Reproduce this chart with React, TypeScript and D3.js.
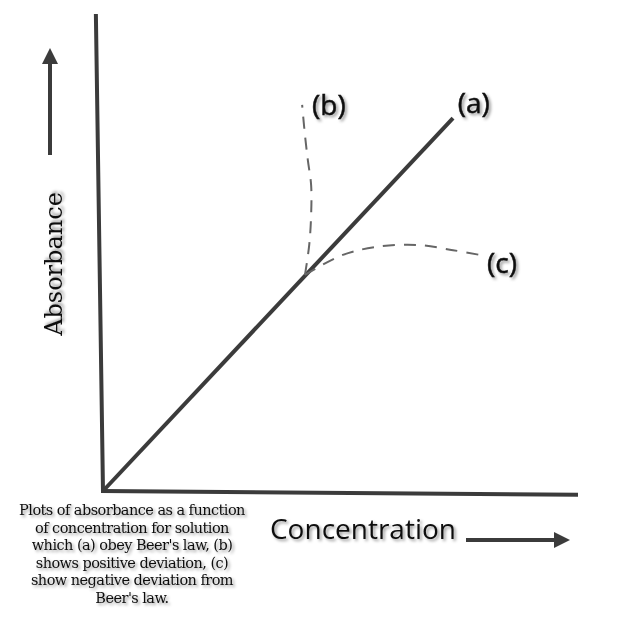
import React from 'react'
import * as d3 from 'd3'

// concentration / absorbance in arbitrary units
const axisX = [
  { c: 0, a: 0 },
  { c: 10, a: -0.08 },
]
const axisY = [
  { c: -0.15, a: 10 },
  { c: 0, a: 0 },
]
const lineA = [
  { c: 0, a: 0 },
  { c: 7.4, a: 7.85 },
]
const lineB = [
  { c: 4.27, a: 4.55 },
  { c: 4.36, a: 5.18 },
  { c: 4.4, a: 5.81 },
  { c: 4.4, a: 6.44 },
  { c: 4.33, a: 6.97 },
  { c: 4.27, a: 7.49 },
  { c: 4.21, a: 8.13 },
]
const lineC = [
  { c: 4.27, a: 4.55 },
  { c: 5.07, a: 4.97 },
  { c: 5.79, a: 5.14 },
  { c: 6.64, a: 5.18 },
  { c: 7.4, a: 5.07 },
  { c: 7.97, a: 4.97 },
]
const curveLabels = [
  { text: '(a)', c: 7.5, a: 7.95 },
  { text: '(b)', c: 4.42, a: 7.92 },
  { text: '(c)', c: 8.12, a: 4.6 },
]
const captionLines = [
  'Plots of absorbance as a function',
  'of concentration for solution',
  "which (a) obey Beer's law, (b)",
  'shows positive deviation, (c)',
  'show negative deviation from',
  "Beer's law.",
]

const W = 632
const H = 618

type Pt = { c: number; a: number }

export default function App() {
  const x = d3.scaleLinear().domain([0, 10]).range([103, 576])
  const y = d3.scaleLinear().domain([0, 10]).range([491, 16])

  const straight = d3
    .line<Pt>()
    .x(d => x(d.c))
    .y(d => y(d.a))
  const smooth = d3
    .line<Pt>()
    .x(d => x(d.c))
    .y(d => y(d.a))
    .curve(d3.curveCatmullRom.alpha(0.5))

  const ink = '#3b3b3b'

  return (
    <svg
      width={W}
      height={H}
      style={{ position: 'absolute', left: 0, top: 0, background: '#fff' }}
    >
      <defs>
        <filter id="shadow" x="-20%" y="-20%" width="140%" height="140%">
          <feDropShadow dx="2" dy="2" stdDeviation="1.6" floodColor="#000" floodOpacity="0.4" />
        </filter>
        <marker
          id="head"
          viewBox="0 0 10 10"
          refX="5"
          refY="5"
          markerWidth="4"
          markerHeight="4"
          orient="auto"
        >
          <path d="M0,0 L10,5 L0,10 z" fill={ink} />
        </marker>
      </defs>

      {/* axes */}
      <path d={straight(axisY)!} fill="none" stroke={ink} strokeWidth={4} strokeLinecap="square" />
      <path d={straight(axisX)!} fill="none" stroke={ink} strokeWidth={4} strokeLinecap="square" />

      {/* curves */}
      <path d={straight(lineA)!} fill="none" stroke={ink} strokeWidth={4} />
      <path d={smooth(lineB)!} fill="none" stroke="#666" strokeWidth={2} strokeDasharray="12 9" />
      <path d={smooth(lineC)!} fill="none" stroke="#666" strokeWidth={2} strokeDasharray="12 9" />

      {curveLabels.map(l => (
        <text
          key={l.text}
          x={x(l.c)}
          y={y(l.a)}
          fontFamily="'Open Sans', sans-serif"
          fontSize={28}
          fill="#111"
          stroke="#111"
          strokeWidth={0.5}
          filter="url(#shadow)"
        >
          {l.text}
        </text>
      ))}

      {/* axis arrows */}
      <line x1={50} y1={155} x2={50} y2={56} stroke={ink} strokeWidth={4} markerEnd="url(#head)" />
      <line x1={466} y1={540} x2={562} y2={540} stroke={ink} strokeWidth={4} markerEnd="url(#head)" />

      <text
        transform="translate(62,264) rotate(-90)"
        textAnchor="middle"
        fontFamily="'DejaVu Serif', serif"
        fontSize={24}
        fill="#111"
        filter="url(#shadow)"
      >
        Absorbance
      </text>
      <text
        x={363}
        y={539}
        textAnchor="middle"
        fontFamily="'Open Sans', sans-serif"
        fontSize={28}
        fill="#111"
        filter="url(#shadow)"
      >
        Concentration
      </text>

      <g fontFamily="'DejaVu Serif', serif" fontSize={14.5} fill="#111" textAnchor="middle" filter="url(#shadow)">
        {captionLines.map((t, i) => (
          <text key={i} x={132} y={515 + i * 17.6} letterSpacing={-0.55}>
            {t}
          </text>
        ))}
      </g>
    </svg>
  )
}
